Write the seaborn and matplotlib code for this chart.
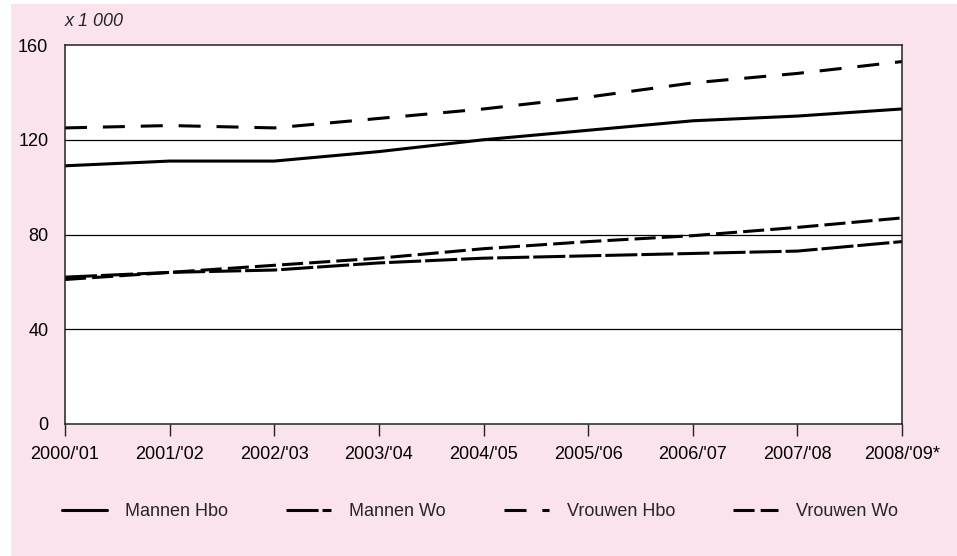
import pandas as pd
import matplotlib
matplotlib.use("Agg")
import matplotlib.pyplot as plt
import seaborn as sns
from matplotlib.patches import Rectangle

# -------------------------------
# Data (x 1 000 students)
# -------------------------------
YEARS = ["2000/'01", "2001/'02", "2002/'03", "2003/'04", "2004/'05",
         "2005/'06", "2006/'07", "2007/'08", "2008/'09*"]
MANNEN_HBO = [109, 111, 111, 115, 120, 124, 128, 130, 133]
MANNEN_WO = [62, 64, 65, 68, 70, 71, 72, 73, 77]
VROUWEN_HBO = [125, 126, 125, 129, 133, 138, 144, 148, 153]
VROUWEN_WO = [61, 64, 67, 70, 74, 77, 79.5, 83, 87]
GROUPS = ["Mannen Hbo", "Mannen Wo", "Vrouwen Hbo", "Vrouwen Wo"]
Y_TICKS = [0, 40, 80, 120, 160]

PINK = "#FAE3EC"

# -------------------------------
# Long form table
# -------------------------------
series = [MANNEN_HBO, MANNEN_WO, VROUWEN_HBO, VROUWEN_WO]
rows = []
for name, vals in zip(GROUPS, series):
    for yr, v in zip(YEARS, vals):
        rows.append({"jaar": yr, "aantal": v, "groep": name})
df = pd.DataFrame(rows)

# -------------------------------
# Plot
# -------------------------------
sns.set_theme(style="white")
plt.rcParams["font.family"] = ["Liberation Sans", "DejaVu Sans"]

fig = plt.figure(figsize=(9.57, 5.56), dpi=100)
fig.patch.set_facecolor("white")
fig.patches.append(Rectangle((11 / 957, 0), 1, 1 - 4 / 556, transform=fig.transFigure,
                             facecolor=PINK, edgecolor="none", zorder=-10))

ax = fig.add_axes([65 / 957, 1 - 424 / 556, (902 - 65) / 957, (424 - 45) / 556])
ax.set_facecolor("white")

dash_map = {
    "Mannen Hbo": "",
    "Mannen Wo": (10.5, 1.3),
    "Vrouwen Hbo": (7.2, 5.2),
    "Vrouwen Wo": (6.9, 2.0),
}
sns.lineplot(data=df, x="jaar", y="aantal", style="groep", style_order=GROUPS,
             dashes=dash_map, color="black", linewidth=2.2, ax=ax, sort=False)

handles, labels = ax.get_legend_handles_labels()
ax.get_legend().remove()
keep = [(h, l) for h, l in zip(handles, labels) if l in GROUPS]

ax.set_xlim(0, len(YEARS) - 1)
ax.set_ylim(0, 160)
ax.set_yticks(Y_TICKS)
ax.set_xlabel("")
ax.set_ylabel("")

for y in Y_TICKS[1:-1]:
    ax.axhline(y, color="black", linewidth=0.9, zorder=1)

for side in ["left", "right", "top", "bottom"]:
    ax.spines[side].set_visible(True)
    ax.spines[side].set_color("#222222")
    ax.spines[side].set_linewidth(1.1)

ax.tick_params(axis="x", length=8.6, width=1, color="#222222", direction="out",
               pad=7, labelsize=13, labelcolor="black", bottom=True)
ax.tick_params(axis="y", length=0, pad=12, labelsize=13, labelcolor="black", left=True)

fig.text(65 / 957, 1 - 22 / 556, "x 1 000", fontsize=13, style="italic",
         ha="left", va="center")

fig.legend([h for h, _ in keep], [l for _, l in keep], ncol=4, frameon=False,
           loc="center left", bbox_to_anchor=(62 / 957, 1 - 512 / 556),
           borderpad=0, borderaxespad=0, handlelength=2.5, handletextpad=1.0,
           columnspacing=3.2, fontsize=13)

fig.savefig("out.png", dpi=100, facecolor=fig.get_facecolor())
